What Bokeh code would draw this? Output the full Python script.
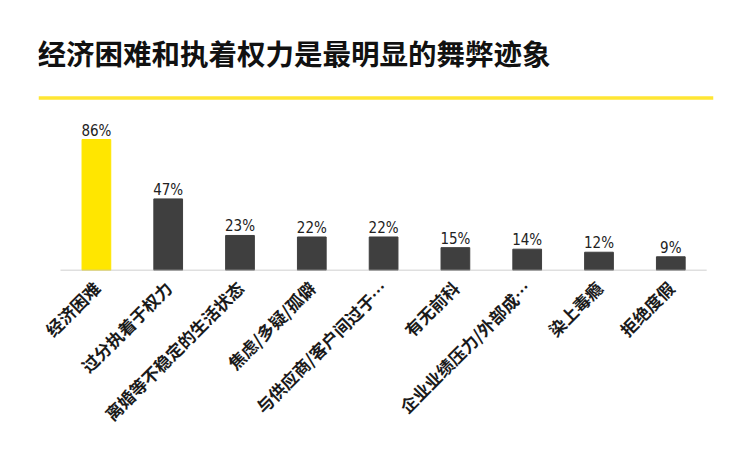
from bokeh.plotting import figure
from bokeh.models import Range1d, FixedTicker, Label, ColumnDataSource
from bokeh.embed import file_html
from bokeh.resources import INLINE
from bokeh.core.properties import value
import math

title_text = "经济困难和执着权力是最明显的舞弊迹象"
categories = ["经济困难", "过分执着于权力", "离婚等不稳定的生活状态", "焦虑/多疑/孤僻",
              "与供应商/客户间过于…", "有无前科", "企业业绩压力/外部成…", "染上毒瘾", "拒绝度假"]
values = [86, 47, 23, 22, 22, 15, 14, 12, 9]
bar_colors = ["#FFE600"] + ["#3F3F3F"] * 8

xs = list(range(len(categories)))
src = ColumnDataSource(dict(x=xs, top=values, color=bar_colors,
                            lab=[f"{v}%" for v in values]))

W, H = 750, 459
left, right, top, bottom = 38, 37, 20, 189
px_per_cat = 71.8
frame_w = W - left - right
x0 = -0.5 - 22 / px_per_cat
x1 = x0 + frame_w / px_per_cat
px_per_unit = 1.523
y1 = (H - top - bottom) / px_per_unit

p = figure(width=W, height=H, output_backend="svg", toolbar_location=None,
           x_range=Range1d(x0, x1), y_range=Range1d(0, y1),
           min_border_left=left, min_border_right=right,
           min_border_top=top, min_border_bottom=bottom)
p.outline_line_color = None
p.grid.visible = False
p.yaxis.visible = False
p.background_fill_color = "white"
p.border_fill_color = "white"

p.vbar(x="x", top="top", width=0.40, color="color", source=src)
p.text(x="x", y="top", text="lab", source=src, text_align="center",
       text_baseline="alphabetic", y_offset=-9, text_font_size="15px",
       text_font=value("'Liberation Sans Narrow', 'DejaVu Sans Condensed', 'Liberation Sans', sans-serif"),
       text_color="#222222")

# baseline
p.segment(x0=[-0.5], y0=[0], x1=[len(categories) - 0.5], y1=[0],
          line_color="#C0C0C0", line_width=1.3)
# yellow rule under title
rule_y = (H - bottom - 97.5) / px_per_unit
p.segment(x0=[x0], y0=[rule_y], x1=[x1], y1=[rule_y], line_color="#FFE633", line_width=3.5)

p.add_layout(Label(x=-1, y=H - bottom - 52, x_units="screen", y_units="screen",
                   text=title_text, text_font_size="28.5px", text_font_style="bold",
                   text_font="Noto Sans CJK SC", text_baseline="middle",
                   text_color="#111111"))

ax = p.xaxis[0]
ax.ticker = FixedTicker(ticks=xs)
ax.major_label_overrides = {i: c for i, c in enumerate(categories)}
ax.major_label_orientation = math.pi / 4
ax.axis_line_color = None
ax.major_tick_line_color = None
ax.minor_tick_line_color = None
ax.major_label_standoff = 8
ax.major_label_text_font = "Noto Sans CJK SC"
ax.major_label_text_font_size = "17px"
ax.major_label_text_font_style = "bold"
ax.major_label_text_color = "#1A1A1A"

open("out.html", "w").write(file_html(p, INLINE))
